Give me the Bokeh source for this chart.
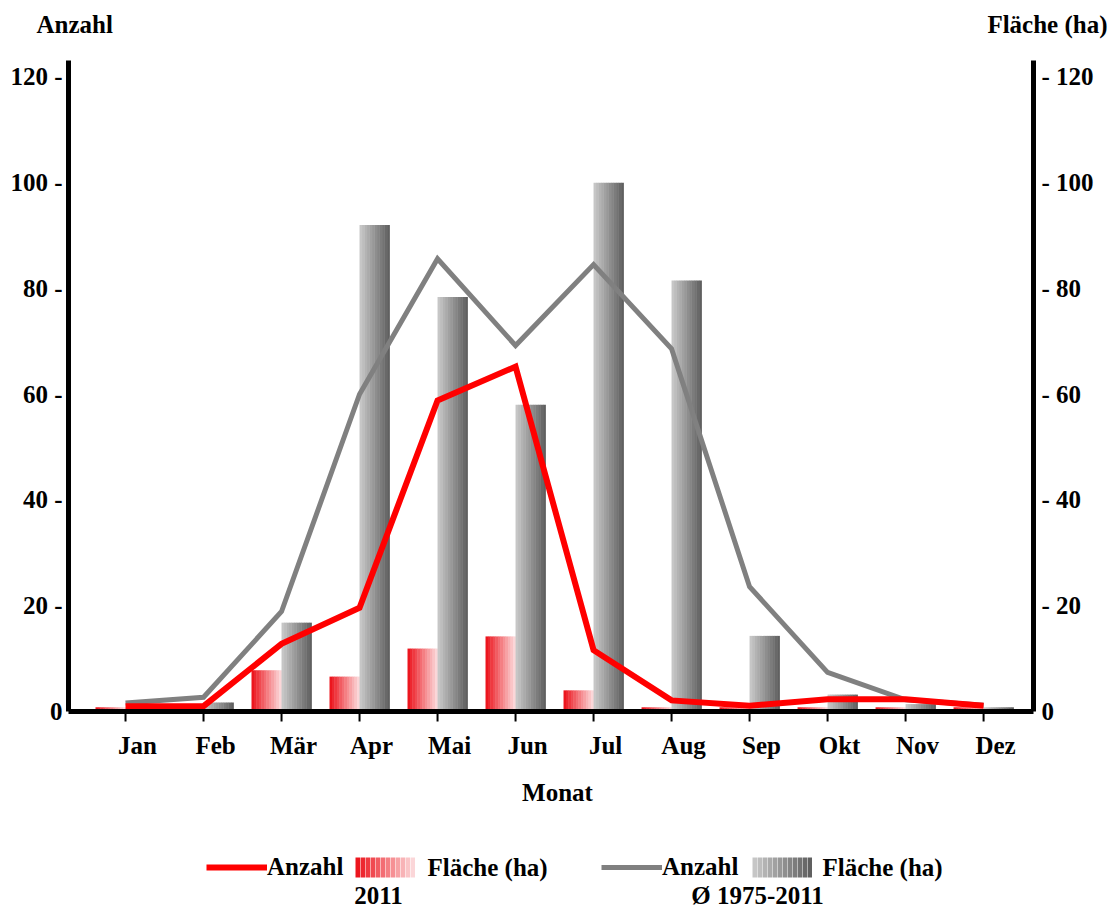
import numpy as np
from bokeh.plotting import figure
from bokeh.models import (Range1d, LinearAxis, FixedTicker, Legend, LegendItem,
                          Label, ColumnDataSource)
from bokeh.embed import file_html
from bokeh.resources import INLINE

# ---------------- data ----------------
months = ["Jan", "Feb", "Mär", "Apr", "Mai", "Jun", "Jul", "Aug", "Sep", "Okt", "Nov", "Dez"]
anzahl_2011 = [1.0, 1.0, 12.8, 19.6, 58.8, 65.2, 11.6, 2.1, 1.1, 2.3, 2.3, 1.1]
flaeche_2011 = [0.8, 0.7, 7.8, 6.6, 11.9, 14.2, 4.0, 0.8, 0.8, 0.8, 0.8, 0.8]
anzahl_avg = [1.6, 2.7, 18.9, 60.0, 85.6, 69.2, 84.5, 68.6, 23.6, 7.4, 2.2, 1.2]
flaeche_avg = [0.6, 1.7, 16.8, 92.0, 78.4, 58.0, 100.0, 81.5, 14.3, 3.2, 1.4, 0.8]
y_ticks = [0, 20, 40, 60, 80, 100, 120]

FONT = "Liberation Serif"
FS = "25px"
W, H = 1114, 909
RED = "#ff0000"
GRAY = "#808080"
RED_GRAD = ((236, 22, 30), (251, 214, 216))
GRAY_GRAD = ((198, 198, 198), (96, 96, 96))
N_STRIPS = 12
x_pos = list(range(1, len(months) + 1))

# plot area (axes) limits in data units
X_LEFT, X_RIGHT = 0.269, 12.64
Y_TOP = 123.1
# pixel geometry of the plot area inside the figure
PX_LEFT, PX_RIGHT, PX_TOP, PX_BASE = 68, 1033, 60, 711
ppx = (PX_RIGHT - PX_LEFT) / (X_RIGHT - X_LEFT)
ppu = (PX_BASE - PX_TOP) / Y_TOP

# the frame covers the whole figure; axes use fixed_location and all texts live inside it
xr = Range1d(X_LEFT - PX_LEFT / ppx, X_RIGHT + (W - PX_RIGHT) / ppx)
yr_ = Range1d(-(H - PX_BASE) / ppu, PX_BASE / ppu)

p = figure(width=W, height=H, x_range=xr, y_range=yr_, title=None,
           output_backend="svg", toolbar_location=None,
           x_axis_type=None, y_axis_type=None,
           min_border_left=0, min_border_right=0, min_border_top=0, min_border_bottom=0)
p.outline_line_color = None
p.extra_x_ranges = {"lbl": Range1d(xr.start - 0.154, xr.end - 0.154)}


def grad_colors(c0, c1, n):
    out = []
    for j in range(n):
        t = j / (n - 1)
        out.append("#%02x%02x%02x" % tuple(int(round(c0[k] + (c1[k] - c0[k]) * t)) for k in range(3)))
    return out


def gradient_strips(vals, offset, grad, n=N_STRIPS, w=0.385):
    cols = grad_colors(grad[0], grad[1], n)
    L, R, T, C = [], [], [], []
    for xc, v in zip(x_pos, vals):
        for j in range(n):
            L.append(xc + offset + j * w / n)
            R.append(xc + offset + (j + 1) * w / n + 0.004)
            T.append(v)
            C.append(cols[j])
    return ColumnDataSource(dict(left=L, right=R, top=T, bottom=[0] * len(T), color=C))


p.quad(left="left", right="right", top="top", bottom="bottom",
       source=gradient_strips(flaeche_2011, -0.385, RED_GRAD), fill_color="color", line_color=None)
p.quad(left="left", right="right", top="top", bottom="bottom",
       source=gradient_strips(flaeche_avg, 0.0, GRAY_GRAD), fill_color="color", line_color=None)

r_gray_line = p.line(x_pos, anzahl_avg, line_color=GRAY, line_width=5, line_join="miter")
r_red_line = p.line(x_pos, anzahl_2011, line_color=RED, line_width=6, line_join="miter")

# month tick marks below the base line
p.segment(x0=x_pos, y0=[0] * len(x_pos), x1=x_pos, y1=[-10 / ppu] * len(x_pos),
          line_color="black", line_width=2)


def style_labels(ax):
    ax.major_label_text_font = FONT
    ax.major_label_text_font_style = "bold"
    ax.major_label_text_font_size = FS
    ax.major_label_text_color = "black"


def no_ticks(ax):
    ax.major_tick_line_color = None
    ax.minor_tick_line_color = None
    ax.major_tick_out = 0
    ax.major_tick_in = 0


# y axes
yl = LinearAxis(ticker=FixedTicker(ticks=y_ticks), bounds=(0, Y_TOP), fixed_location=X_LEFT,
                major_label_overrides={t: (f"{t} -" if t else "0") for t in y_ticks})
yrt = LinearAxis(ticker=FixedTicker(ticks=y_ticks), bounds=(0, Y_TOP), fixed_location=X_RIGHT,
                 major_label_overrides={t: (f"- {t}" if t else "0") for t in y_ticks})
for ax, so in ((yl, 6), (yrt, 8)):
    style_labels(ax)
    no_ticks(ax)
    ax.axis_line_width = 5
    ax.axis_line_color = "black"
    ax.major_label_standoff = so
p.add_layout(yl, "left")
p.add_layout(yrt, "right")

# x base line
xb = LinearAxis(ticker=FixedTicker(ticks=[]), bounds=(X_LEFT, X_RIGHT), fixed_location=0)
no_ticks(xb)
xb.axis_line_width = 5
xb.axis_line_color = "black"
p.add_layout(xb, "below")

# month labels (slightly right of the tick marks) and axis title
xl = LinearAxis(x_range_name="lbl", ticker=FixedTicker(ticks=x_pos), fixed_location=0,
                major_label_overrides={i: m for i, m in zip(x_pos, months)},
                axis_label="Monat")
style_labels(xl)
no_ticks(xl)
xl.axis_line_color = None
xl.major_label_standoff = 20
xl.axis_label_standoff = 17
xl.axis_label_text_font = FONT
xl.axis_label_text_font_style = "bold"
xl.axis_label_text_font_size = FS
xl.axis_label_text_color = "black"
p.add_layout(xl, "below")


def label(txt, x, y, align):
    p.add_layout(Label(x=x, y=H - y, x_units="screen", y_units="screen", text=txt,
                       text_align=align, text_baseline="middle", text_font=FONT,
                       text_font_style="bold", text_font_size=FS, text_color="black"))


# axis titles
label("Anzahl", 36, 24, "left")
label("Fläche (ha)", 1107, 24, "right")

# ---------------- legend ----------------
ROW_C = 867           # centre of the legend row (px from the top)
ROW_B = H - ROW_C - 14


def legend_box(items, x, gw, gh):
    lg = Legend(items=items, location=(x, ROW_B), orientation="horizontal",
                padding=0, margin=0, spacing=0, border_line_color=None,
                background_fill_alpha=0, glyph_width=gw, glyph_height=gh,
                label_standoff=0, label_width=0, label_text_font=FONT,
                label_text_font_style="bold", label_text_font_size=FS,
                label_text_color="black")
    p.add_layout(lg, "center")


def gradient_key(grad, x):
    # colour keys only (no coordinates): one legend entry per gradient step
    cols = grad_colors(grad[0], grad[1], N_STRIPS)
    nan = [float("nan")] * N_STRIPS
    r = p.segment(x0=nan, y0=nan, x1=nan, y1=nan, line_color=cols, line_width=20, line_cap="butt")
    items = [LegendItem(label="", renderers=[r], index=j) for j in range(N_STRIPS)]
    legend_box(items, x, 5, 28)


legend_box([LegendItem(label="Anzahl", renderers=[r_red_line])], 206, 61, 28)
gradient_key(RED_GRAD, 355)
legend_box([LegendItem(label="Anzahl", renderers=[r_gray_line])], 601, 61, 28)
gradient_key(GRAY_GRAD, 752)

label("Fläche (ha)", 427, ROW_C, "left")
label("Fläche (ha)", 822, ROW_C, "left")
label("2011", 378, 895, "center")
label("Ø 1975-2011", 757, 895, "center")

open("out.html", "w").write(file_html(p, INLINE))
